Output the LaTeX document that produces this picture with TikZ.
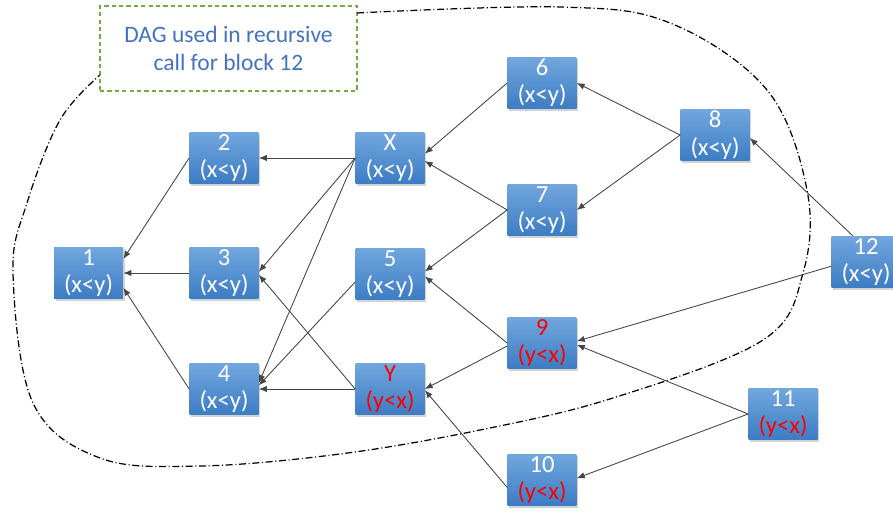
\documentclass[tikz,border=0pt]{standalone}
\usepackage{fontspec}
\setmainfont{Carlito}
\usetikzlibrary{arrows.meta,shadows}
\definecolor{blktop}{RGB}{114,167,222}
\definecolor{blkbot}{RGB}{60,124,196}
\definecolor{notegreen}{RGB}{112,173,71}
\definecolor{noteblue}{RGB}{68,114,196}
\definecolor{edgegray}{RGB}{70,70,70}
\tikzset{
  blk/.style={rectangle, top color=blktop, bottom color=blkbot, text=white,
    minimum width=1.38cm, minimum height=1.04cm, inner sep=0pt, align=center,
    font=\fontsize{14}{15.5}\selectfont,
    drop shadow={shadow xshift=1pt, shadow yshift=-1.2pt, opacity=0.35}},
  dep/.style={edgegray, line width=0.5pt, -{Latex[length=4.5pt,width=3.6pt]}},
}

\begin{document}
\begin{tikzpicture}[x=0.02cm,y=-0.02cm]
  \useasboundingbox (0,0) rectangle (893,513);

  % region of the recursive call
  \node[draw=notegreen, line width=0.7pt, dash pattern=on 2.4pt off 1.8pt,
        text=noteblue, align=center, font=\fontsize{13.4}{16}\selectfont,
        minimum width=5.14cm, minimum height=1.7cm] (note) at (228.5,48.5)
        {DAG used in recursive\\call for block 12};
  \draw[line width=0.7pt, dash pattern=on 4pt off 1.5pt on 0.6pt off 1.5pt]
    plot[smooth, tension=0.6] coordinates {(357,13) (560,7) (670,23) (767,90)
      (807,190) (803,273) (763,340) (613,398) (480,430) (340,454) (200,466)
      (100,458) (33,403) (13,273) (27,203) (60,120) (100,75)};

  % blocks
  \node[blk] (n1)  at (88.5,273) {1\\(x<y)};
  \node[blk] (n2)  at (224,158)  {2\\(x<y)};
  \node[blk] (n3)  at (224,273)  {3\\(x<y)};
  \node[blk] (n4)  at (224,389)  {4\\(x<y)};
  \node[blk] (nX)  at (390,158)  {X\\(x<y)};
  \node[blk] (n5)  at (390,274)  {5\\(x<y)};
  \node[blk, text=red] (nY) at (390,389) {Y\\(y<x)};
  \node[blk] (n6)  at (542,83)   {6\\(x<y)};
  \node[blk] (n7)  at (542,210)  {7\\(x<y)};
  \node[blk, text=red] (n9) at (542,343) {9\\(y<x)};
  \node[blk] (n10) at (542,480)  {10\\\textcolor{red}{(y<x)}};
  \node[blk] (n8)  at (715,135)  {8\\(x<y)};
  \node[blk] (n11) at (783,414)  {11\\\textcolor{red}{(y<x)}};
  \node[blk] (n12) at (866,262)  {12\\(x<y)};

  % dependencies
  \draw[dep] (n2.west) -- (n1.22);
  \draw[dep] (n3.west) -- (n1.east);
  \draw[dep] (n4.west) -- (n1.-23);
  \draw[dep] (nX.west) -- (n2.east);
  \draw[dep] (nX.west) -- (n3.2);
  \draw[dep] (nX.west) -- (n4.10);
  \draw[dep] (n5.193) -- (n4.6);
  \draw[dep] (nY.west) -- (n4.east);
  \draw[dep] (nY.west) -- (n3.-3);
  \draw[dep] (n6.west) -- (nX.7);
  \draw[dep] (n7.west) -- (nX.-5);
  \draw[dep] (n7.west) -- (n5.4);
  \draw[dep] (n9.west) -- (n5.-4);
  \draw[dep] (n9.185) -- (nY.east);
  \draw[dep] (n10.192) -- (nY.-2);
  \draw[dep] (n8.west) -- (n6.east);
  \draw[dep] (n8.west) -- (n7.east);
  \draw[dep] (n12.117) -- (n8.-5);
  \draw[dep] (n12.187) -- (n9.3);
  \draw[dep] (n11.west) -- (n9.-3);
  \draw[dep] (n11.west) -- (n10.3);
\end{tikzpicture}
\end{document}
